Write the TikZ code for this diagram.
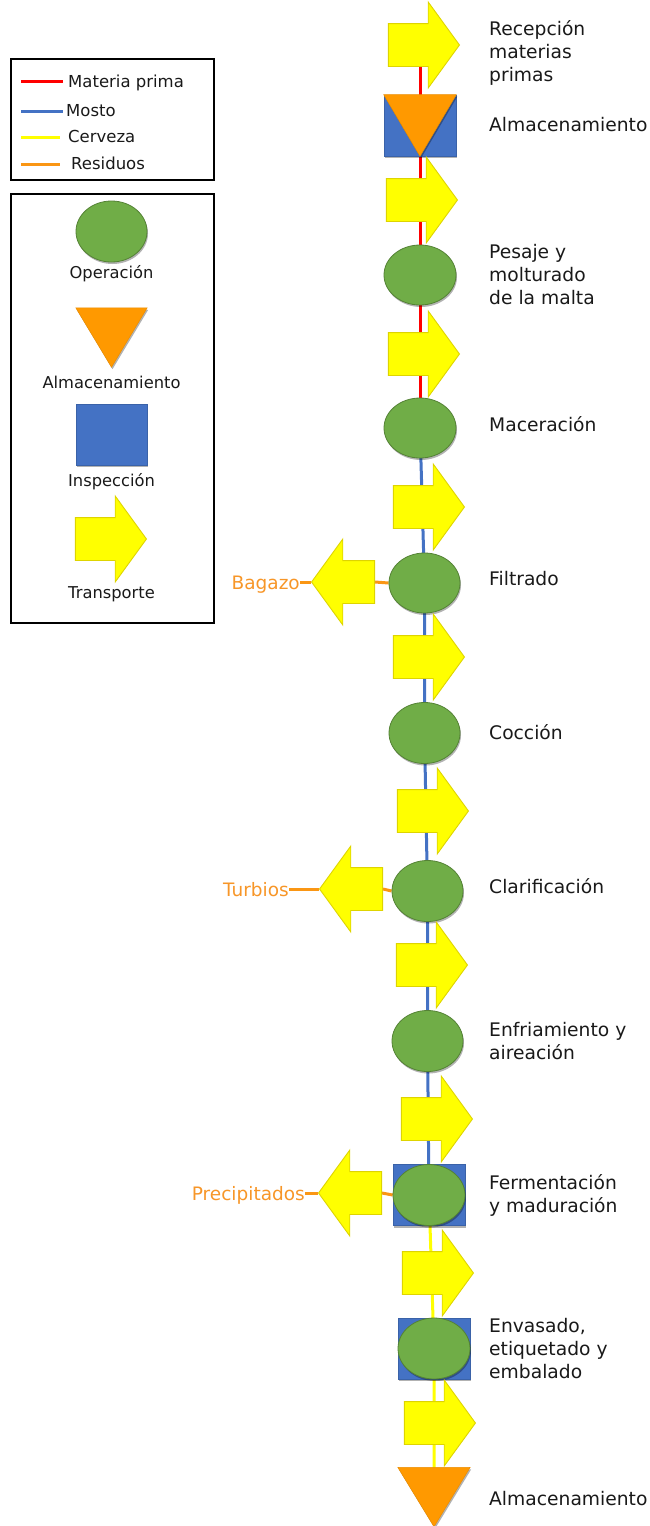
\documentclass[tikz,border=0pt]{standalone}
\usepackage{fontspec}
\setmainfont{DejaVu Sans}
\usetikzlibrary{shapes.geometric,shapes.arrows,shadows}
\definecolor{flowred}{RGB}{255,0,0}
\definecolor{flowblue}{RGB}{68,114,196}
\definecolor{flowyellow}{RGB}{255,255,0}
\definecolor{floworange}{RGB}{250,150,20}
\definecolor{wastetext}{RGB}{247,150,40}
\definecolor{opgreen}{RGB}{112,173,71}
\definecolor{opgreenedge}{RGB}{84,130,53}
\definecolor{arrowedge}{RGB}{222,212,0}
\definecolor{boxblue}{RGB}{68,114,196}
\definecolor{boxblueedge}{RGB}{58,98,168}
\definecolor{storeorange}{RGB}{255,153,0}
\definecolor{ink}{RGB}{25,25,25}
\pgfdeclarelayer{background}
\pgfsetlayers{background,main}
\tikzset{
  softshadow/.style={drop shadow={shadow xshift=1pt, shadow yshift=-2pt, opacity=0.3, fill=black}},
  operation/.style={ellipse, fill=opgreen, draw=opgreenedge, line width=0.8pt,
    minimum width=72pt, minimum height=60pt, inner sep=0pt, softshadow},
  inspection/.style={rectangle, fill=boxblue, draw=boxblueedge, line width=0.6pt,
    minimum width=72pt, minimum height=61pt, inner sep=0pt, softshadow},
  storagebox/.style={rectangle, minimum width=72pt, minimum height=59pt, inner sep=0pt},
  storagetri/.style={fill=storeorange, draw=storeorange!92!black, line width=0.5pt, softshadow},
  transport/.style={single arrow, fill=flowyellow, draw=arrowedge, line width=0.9pt,
    minimum height=71pt, single arrow head extend=21.5pt, single arrow tip angle=108,
    inner xsep=0pt, inner ysep=21pt, text height=0pt, text depth=0pt, anchor=tip},
  waste/.style={transport, minimum height=63pt, shape border rotate=180},
  steplabel/.style={font=\fontsize{18.7}{23}\selectfont, text=ink, inner sep=0pt,
    align=left, anchor=base west},
  wastelabel/.style={font=\fontsize{18.5}{22}\selectfont, text=wastetext, inner sep=0pt,
    anchor=base east},
  keylabel/.style={font=\fontsize{16.3}{20}\selectfont, text=ink, inner sep=0pt, anchor=base},
  linelabel/.style={font=\fontsize{16.5}{20}\selectfont, text=ink, inner sep=0pt, anchor=base west},
  flowline/.style={line width=3pt},
  keyline/.style={line width=3pt},
  frame/.style={draw=black, line width=1.2pt, inner sep=0pt},
}
\begin{document}
\begin{tikzpicture}[x=1pt, y=-1pt]
\useasboundingbox (0,0) rectangle (650,1526);

% ---------- legend: flow colours ----------
\node[frame, minimum width=203pt, minimum height=121pt] (keyflow) at (112.5,119.5) {};
\draw[keyline, flowred] (21,81) -- (63,81);
\draw[keyline, flowblue] (21,111) -- (63,111);
\draw[keyline, flowyellow] (21,137) -- (60,137);
\draw[keyline, floworange] (21,164) -- (60,164);
\node[linelabel] (kred) at (68,87) {Materia prima};
\node[linelabel] (kblue) at (66,116) {Mosto};
\node[linelabel] (kyellow) at (68,142) {Cerveza};
\node[linelabel] (korange) at (71,169) {Residuos};

% ---------- legend: symbols ----------
\node[frame, minimum width=203pt, minimum height=429pt] (keysym) at (112.5,408.5) {};
\node[operation, minimum width=71pt, minimum height=61pt] (kop) at (111.5,231.5) {};
\node[keylabel] (kopl) at (111.5,278) {Operación};
\node[storagebox, minimum width=71pt] (kst) at (111.5,337.5) {};
\draw[storagetri] (kst.north west) -- (kst.north east) -- (kst.south) -- cycle;
\node[keylabel] (kstl) at (111.5,388) {Almacenamiento};
\node[inspection, minimum width=71pt] (kin) at (111.5,434.5) {};
\node[keylabel] (kinl) at (111.5,486) {Inspección};
\node[transport] (ktr) at (147,539) {};
\node[keylabel] (ktrl) at (111.5,598) {Transporte};

% ---------- process column ----------
\node[transport] (a1) at (460,45) {};
\node[inspection] (st1) at (420,125.5) {};
\draw[storagetri] (st1.north west) -- (st1.north east) -- (st1.south) -- cycle;
\node[transport] (a2) at (458,200) {};
\node[operation] (e1) at (420,275) {};
\node[transport] (a3) at (460,354) {};
\node[operation] (e2) at (420,428) {};
\node[transport] (a4) at (465,507) {};
\node[operation, minimum width=71pt] (e3) at (424.5,583) {};
\node[transport] (a5) at (465,657) {};
\node[operation, minimum width=71pt, minimum height=61pt] (e4) at (424.5,733) {};
\node[transport] (a6) at (469,811) {};
\node[operation, minimum width=71pt, minimum height=61pt] (e5) at (427.5,891) {};
\node[transport] (a7) at (468,965) {};
\node[operation, minimum width=71pt, minimum height=61pt] (e6) at (427.5,1041) {};
\node[transport] (a8) at (473,1119) {};
\node[inspection] (f7) at (429,1195) {};
\node[operation, minimum height=61pt] (f7op) at (429,1195) {};
\node[transport] (a9) at (474,1273) {};
\node[inspection] (g8) at (434,1348.5) {};
\node[operation, minimum height=61pt] (g8op) at (434,1348.5) {};
\node[transport] (a10) at (476,1423) {};
\node[storagebox] (st2) at (434,1497) {};
\draw[storagetri] (st2.north west) -- (st2.north east) -- (st2.south) -- cycle;

% ---------- waste outputs ----------
\node[waste] (w1) at (311,582) {};
\node[wastelabel] (w1l) at (300,589) {Bagazo};
\node[waste] (w2) at (319,889) {};
\node[wastelabel] (w2l) at (289,896) {Turbios};
\node[waste] (w3) at (318,1193) {};
\node[wastelabel] (w3l) at (305,1200) {Precipitados};

% ---------- flow lines behind the symbols ----------
\begin{pgfonlayer}{background}
  \draw[flowline, flowred] (st1 |- a1) -- (st1.center) -- (e1.center) -- (e2.center);
  \draw[flowline, flowblue] (e2.center) -- (e3.center) -- (e4.center) -- (e5.center)
    -- (e6.center) -- (f7.center);
  \draw[flowline, flowyellow] (f7.center) -- (g8.center) -- (st2.center);
  \draw[flowline, floworange] (w1.tail) -- (e3.west);
  \draw[flowline, floworange] (w1.tip) -- (w1.tip -| w1l.east);
  \draw[flowline, floworange] (w2.tail) -- (e5.west);
  \draw[flowline, floworange] (w2.tip) -- (w2.tip -| w2l.east);
  \draw[flowline, floworange] (w3.tail) -- (f7.west);
  \draw[flowline, floworange] (w3.tip) -- (w3.tip -| w3l.east);
\end{pgfonlayer}

% ---------- step names (base anchor sits on the last line) ----------
\node[steplabel] (t1) at (489,81) {Recepción\\materias\\primas};
\node[steplabel] (t2) at (489,131) {Almacenamiento};
\node[steplabel] (t3) at (489,304) {Pesaje y\\molturado\\de la malta};
\node[steplabel] (t4) at (489,431) {Maceración};
\node[steplabel] (t5) at (489,585) {Filtrado};
\node[steplabel] (t6) at (489,739) {Cocción};
\node[steplabel] (t7) at (489,893) {Clarificación};
\node[steplabel] (t8) at (489,1059) {Enfriamiento y\\aireación};
\node[steplabel] (t9) at (489,1212) {Fermentación\\y maduración};
\node[steplabel] (t10) at (489,1378) {Envasado,\\etiquetado y\\embalado};
\node[steplabel] (t11) at (489,1505) {Almacenamiento};
\end{tikzpicture}
\end{document}
